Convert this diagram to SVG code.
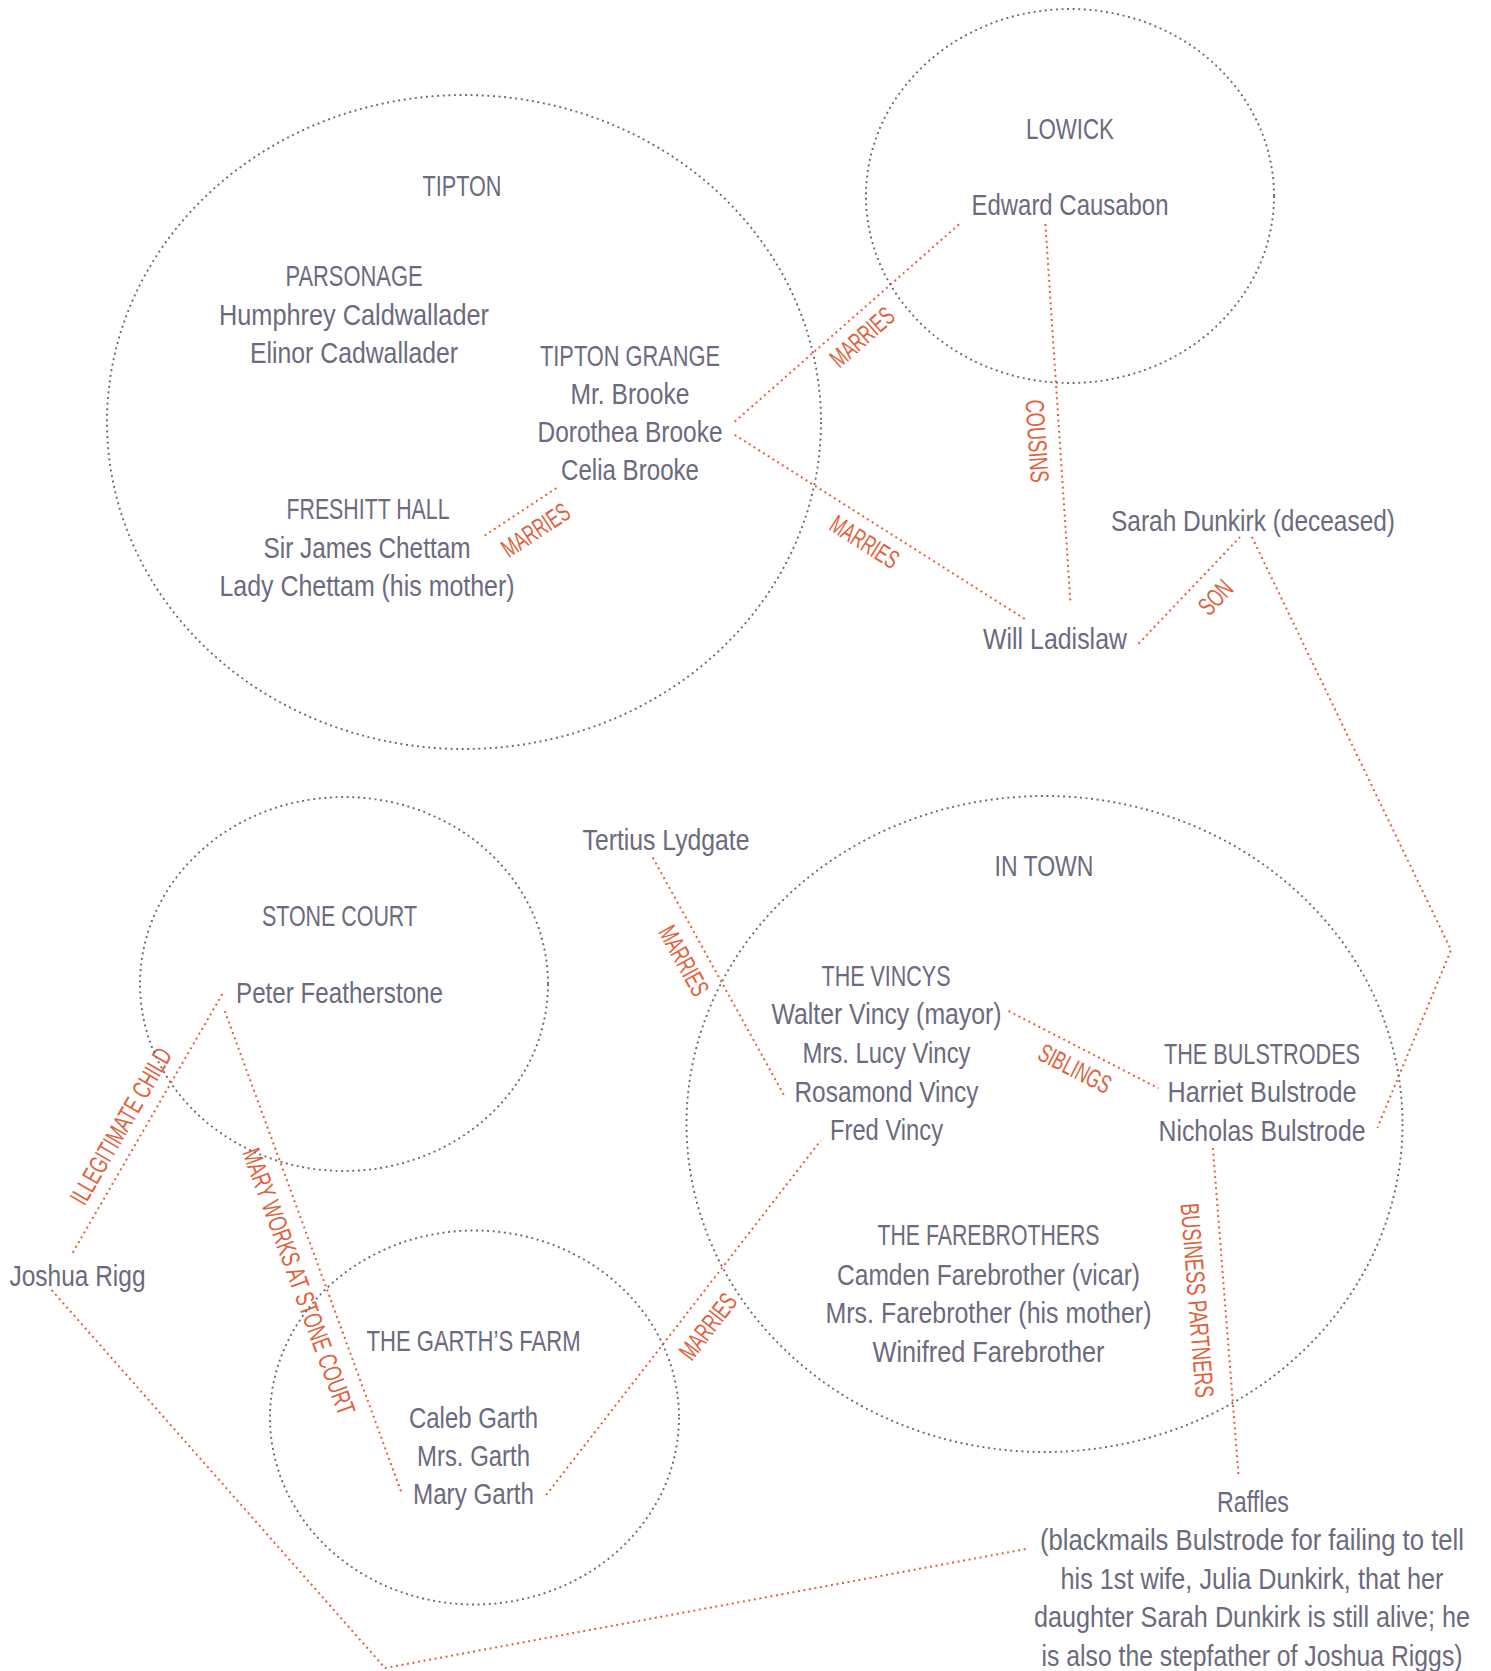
<svg xmlns="http://www.w3.org/2000/svg" width="1491" height="1671" viewBox="0 0 1491 1671">
<style>
.bg{fill:#ffffff}
.place{fill:none;stroke:#6b6b7c;stroke-width:1.9;stroke-dasharray:2 3.6}
.t{font-family:"Liberation Sans Narrow","Liberation Sans",Arial,sans-serif;font-size:30px;fill:#6b6a7e;text-anchor:middle}
.link{fill:none;stroke:#e0623c;stroke-width:2;stroke-dasharray:2 3.6}
.lbl{font-family:"Liberation Sans Narrow","Liberation Sans",Arial,sans-serif;font-size:26px;fill:#e0623c;text-anchor:middle}
</style>
<rect class="bg" x="0" y="0" width="1491" height="1671"/>

<g id="connectors">
  <line class="link" x1="484.7" y1="535.6" x2="557.7" y2="487.2"/>
  <line class="link" x1="734.7" y1="421.7" x2="959.4" y2="224"/>
  <line class="link" x1="734.7" y1="434.8" x2="1025.5" y2="619.5"/>
  <line class="link" x1="1045.4" y1="224" x2="1070.4" y2="602"/>
  <line class="link" x1="1138.5" y1="643.7" x2="1240" y2="537"/>
  <polyline class="link" points="1251.9,537 1451,950 1377.4,1127.8"/>
  <line class="link" x1="72.7" y1="1252.7" x2="223.3" y2="992.4"/>
  <line class="link" x1="224.8" y1="1011" x2="401.7" y2="1493.3"/>
  <polyline class="link" points="51.6,1290 385,1668 1026,1549"/>
  <line class="link" x1="546.2" y1="1495" x2="820.7" y2="1140.6"/>
  <line class="link" x1="652.8" y1="857.6" x2="785" y2="1097"/>
  <line class="link" x1="1008.5" y1="1011" x2="1158.5" y2="1088.3"/>
  <line class="link" x1="1212.9" y1="1148.2" x2="1238.7" y2="1477.6"/>

  <text class="lbl" transform="translate(535.5,530) rotate(-33.5)" dy="0.35em" textLength="76" lengthAdjust="spacingAndGlyphs">MARRIES</text>
  <text class="lbl" transform="translate(862,337) rotate(-41.3)" dy="0.35em" textLength="76" lengthAdjust="spacingAndGlyphs">MARRIES</text>
  <text class="lbl" transform="translate(864.6,541.7) rotate(32.4)" dy="0.35em" textLength="76" lengthAdjust="spacingAndGlyphs">MARRIES</text>
  <text class="lbl" transform="translate(1037.3,441) rotate(86.2)" dy="0.35em" textLength="83" lengthAdjust="spacingAndGlyphs">COUSINS</text>
  <text class="lbl" transform="translate(1215.5,597.2) rotate(-46.4)" dy="0.35em" textLength="37" lengthAdjust="spacingAndGlyphs">SON</text>
  <text class="lbl" transform="translate(120.8,1126) rotate(-59.9)" dy="0.35em" textLength="176" lengthAdjust="spacingAndGlyphs">ILLEGITIMATE CHILD</text>
  <text class="lbl" transform="translate(299,1281.5) rotate(69.9)" dy="0.35em" textLength="282" lengthAdjust="spacingAndGlyphs">MARY WORKS AT STONE COURT</text>
  <text class="lbl" transform="translate(707.8,1326.5) rotate(-52.2)" dy="0.35em" textLength="76" lengthAdjust="spacingAndGlyphs">MARRIES</text>
  <text class="lbl" transform="translate(684,960.5) rotate(61.1)" dy="0.35em" textLength="76" lengthAdjust="spacingAndGlyphs">MARRIES</text>
  <text class="lbl" transform="translate(1075,1068.5) rotate(27.3)" dy="0.35em" textLength="78" lengthAdjust="spacingAndGlyphs">SIBLINGS</text>
  <text class="lbl" transform="translate(1197.3,1300.4) rotate(85.5)" dy="0.35em" textLength="195" lengthAdjust="spacingAndGlyphs">BUSINESS PARTNERS</text>
</g>

<g id="tipton">
  <ellipse class="place" cx="464" cy="422" rx="357" ry="327"/>
  <text class="t" x="462" y="196" textLength="79" lengthAdjust="spacingAndGlyphs">TIPTON</text>
  <text class="t" x="354" y="286" textLength="137" lengthAdjust="spacingAndGlyphs">PARSONAGE</text>
  <text class="t" x="354" y="324.5" textLength="270" lengthAdjust="spacingAndGlyphs">Humphrey Caldwallader</text>
  <text class="t" x="354" y="363" textLength="208" lengthAdjust="spacingAndGlyphs">Elinor Cadwallader</text>
  <text class="t" x="630" y="366" textLength="180" lengthAdjust="spacingAndGlyphs">TIPTON GRANGE</text>
  <text class="t" x="630" y="404" textLength="119" lengthAdjust="spacingAndGlyphs">Mr. Brooke</text>
  <text class="t" x="630" y="442" textLength="185" lengthAdjust="spacingAndGlyphs">Dorothea Brooke</text>
  <text class="t" x="630" y="480" textLength="138" lengthAdjust="spacingAndGlyphs">Celia Brooke</text>
  <text class="t" x="368" y="519" textLength="163" lengthAdjust="spacingAndGlyphs">FRESHITT HALL</text>
  <text class="t" x="367" y="557.5" textLength="207" lengthAdjust="spacingAndGlyphs">Sir James Chettam</text>
  <text class="t" x="367" y="595.5" textLength="295" lengthAdjust="spacingAndGlyphs">Lady Chettam (his mother)</text>
</g>

<g id="lowick">
  <ellipse class="place" cx="1070" cy="196" rx="204" ry="187"/>
  <text class="t" x="1070" y="139" textLength="88" lengthAdjust="spacingAndGlyphs">LOWICK</text>
  <text class="t" x="1070" y="214.5" textLength="197" lengthAdjust="spacingAndGlyphs">Edward Causabon</text>
</g>

<g id="sarah-dunkirk">
  <text class="t" x="1253" y="531" textLength="284" lengthAdjust="spacingAndGlyphs">Sarah Dunkirk (deceased)</text>
</g>

<g id="will-ladislaw">
  <text class="t" x="1055" y="648.5" textLength="144" lengthAdjust="spacingAndGlyphs">Will Ladislaw</text>
</g>

<g id="stone-court">
  <ellipse class="place" cx="344" cy="984" rx="204" ry="187"/>
  <text class="t" x="339.5" y="925.5" textLength="155" lengthAdjust="spacingAndGlyphs">STONE COURT</text>
  <text class="t" x="339.5" y="1003" textLength="207" lengthAdjust="spacingAndGlyphs">Peter Featherstone</text>
</g>

<g id="joshua-rigg">
  <text class="t" x="77.5" y="1286" textLength="136" lengthAdjust="spacingAndGlyphs">Joshua Rigg</text>
</g>

<g id="tertius-lydgate">
  <text class="t" x="666" y="850" textLength="167" lengthAdjust="spacingAndGlyphs">Tertius Lydgate</text>
</g>

<g id="garth-farm">
  <ellipse class="place" cx="474.5" cy="1417.5" rx="204.5" ry="187"/>
  <text class="t" x="473.5" y="1351" textLength="214" lengthAdjust="spacingAndGlyphs">THE GARTH’S FARM</text>
  <text class="t" x="473.5" y="1428" textLength="129" lengthAdjust="spacingAndGlyphs">Caleb Garth</text>
  <text class="t" x="473.5" y="1466" textLength="113" lengthAdjust="spacingAndGlyphs">Mrs. Garth</text>
  <text class="t" x="473.5" y="1504" textLength="121" lengthAdjust="spacingAndGlyphs">Mary Garth</text>
</g>

<g id="in-town">
  <ellipse class="place" cx="1044.5" cy="1124" rx="358" ry="328"/>
  <text class="t" x="1044" y="876" textLength="99" lengthAdjust="spacingAndGlyphs">IN TOWN</text>
  <text class="t" x="886" y="985.5" textLength="129" lengthAdjust="spacingAndGlyphs">THE VINCYS</text>
  <text class="t" x="886.5" y="1024" textLength="230" lengthAdjust="spacingAndGlyphs">Walter Vincy (mayor)</text>
  <text class="t" x="886.5" y="1062.5" textLength="168" lengthAdjust="spacingAndGlyphs">Mrs. Lucy Vincy</text>
  <text class="t" x="886.5" y="1101.5" textLength="184" lengthAdjust="spacingAndGlyphs">Rosamond Vincy</text>
  <text class="t" x="886.5" y="1139.5" textLength="113" lengthAdjust="spacingAndGlyphs">Fred Vincy</text>
  <text class="t" x="1262" y="1064" textLength="196" lengthAdjust="spacingAndGlyphs">THE BULSTRODES</text>
  <text class="t" x="1262" y="1101.5" textLength="189" lengthAdjust="spacingAndGlyphs">Harriet Bulstrode</text>
  <text class="t" x="1262" y="1140.5" textLength="207" lengthAdjust="spacingAndGlyphs">Nicholas Bulstrode</text>
  <text class="t" x="988.5" y="1245" textLength="222" lengthAdjust="spacingAndGlyphs">THE FAREBROTHERS</text>
  <text class="t" x="988.5" y="1284.5" textLength="303" lengthAdjust="spacingAndGlyphs">Camden Farebrother (vicar)</text>
  <text class="t" x="988.5" y="1322.5" textLength="326" lengthAdjust="spacingAndGlyphs">Mrs. Farebrother (his mother)</text>
  <text class="t" x="988.5" y="1361.5" textLength="232" lengthAdjust="spacingAndGlyphs">Winifred Farebrother</text>
</g>

<g id="raffles">
  <text class="t" x="1253" y="1511.5" textLength="72" lengthAdjust="spacingAndGlyphs">Raffles</text>
  <text class="t" transform="translate(1252,1550) scale(0.78,1)" textLength="543.6" lengthAdjust="spacingAndGlyphs">(blackmails Bulstrode for failing to tell</text>
  <text class="t" transform="translate(1252,1588.5) scale(0.78,1)" textLength="491" lengthAdjust="spacingAndGlyphs">his 1st wife, Julia Dunkirk, that her</text>
  <text class="t" transform="translate(1252,1627) scale(0.78,1)" textLength="559" lengthAdjust="spacingAndGlyphs">daughter Sarah Dunkirk is still alive; he</text>
  <text class="t" transform="translate(1252,1665.5) scale(0.78,1)" textLength="539.7" lengthAdjust="spacingAndGlyphs">is also the stepfather of Joshua Riggs)</text>
</g>
</svg>
